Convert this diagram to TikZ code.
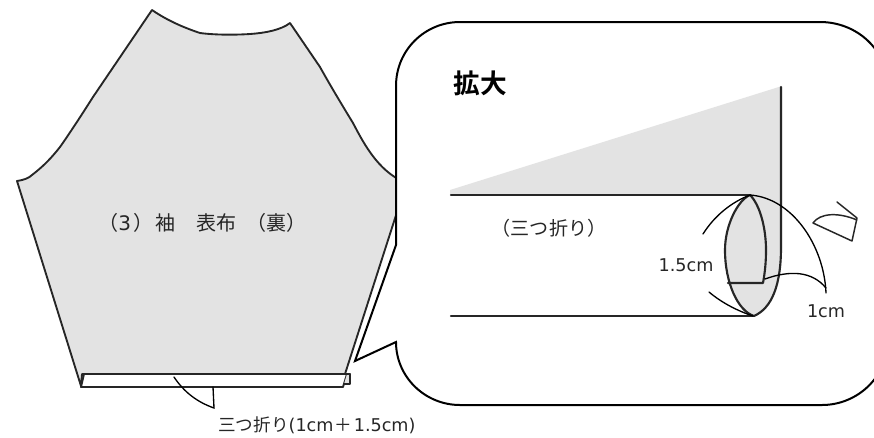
\documentclass[tikz,border=0pt]{standalone}
\usepackage{fontspec}
\setmainfont{DejaVu Sans}
\newfontfamily\cjk{Noto Sans CJK JP}
\newfontfamily\cjkb{Noto Sans CJK JP Bold}
\definecolor{cloth}{HTML}{E3E3E3}
\definecolor{ink}{HTML}{262626}
\tikzset{
  outline/.style={draw=ink,line width=1.4pt,line join=round,line cap=round},
  thinline/.style={draw=black,line width=1pt,line cap=round},
  foldline/.style={draw=ink,line width=1.6pt,line cap=round,line join=round},
  label/.style={inner sep=0pt,text=ink,font=\fontsize{13.2}{15}\selectfont},
}
\begin{document}
\begin{tikzpicture}[x=.75pt,y=-.75pt]
\useasboundingbox (0,0) rectangle (874,437);
\clip (0,0) rectangle (874,437);
% sleeve
\path[outline,fill=cloth] (152,10) .. controls (168,21) and (185,28) .. (200,33)
  .. controls (215,35) and (235,35) .. (250,34)
  .. controls (265,33) and (281,30) .. (290,23)
  -- (320,67) .. controls (330,85) and (342,105) .. (353,123)
  .. controls (362,140) and (375,166) .. (398,179)
  -- (398,209) -- (345,374) -- (82,374) -- (81,386) -- (17,181)
  .. controls (24,180) and (29,178) .. (32,175)
  .. controls (45,165) and (52,157) .. (60,147)
  .. controls (72,130) and (86,108) .. (93,97)
  -- cycle;
% hem
\path[outline,fill=white] (84,374) -- (347,374) -- (343,387) -- (81,387) -- (84,374) -- cycle;
\path[outline,fill=cloth] (347,374) -- (350,374) -- (350,384) -- (344,384);
\draw[outline] (345,374) -- (350,374);
\draw[thinline] (174,377) .. controls (184,392) and (197,402) .. (214,408) -- (213,387);
% bubble
\path[draw=black,line width=1.5pt,fill=white,line join=miter] (396,86)
  .. controls (396,50) and (425,22) .. (460,22) -- (820,22)
  .. controls (857,22) and (888,50) .. (888,88) -- (888,340)
  .. controls (888,376) and (858,405) .. (822,405) -- (460,405)
  .. controls (425,405) and (396,377) .. (396,342)
  -- (355,361) -- (396,245) -- (396,86) -- cycle;
% detail
\path[fill=cloth] (450,190) -- (782,86) -- (782,247)
  .. controls (782,285) and (772,308) .. (754,316)
  .. controls (738,311) and (725,283) .. (725,250)
  .. controls (725,225) and (738,200) .. (750,195) -- (450,195) -- cycle;
\draw[foldline] (451,195) -- (750,195);
\draw[foldline] (451,316) -- (754,316);
\draw[foldline] (781,87) -- (781,247) .. controls (781,285) and (772,308) .. (754,316)
  .. controls (738,311) and (725,283) .. (725,250)
  .. controls (725,225) and (738,200) .. (750,195)
  .. controls (760,205) and (766,228) .. (766,250)
  .. controls (766,262) and (765,272) .. (763,283) -- (728,283);
\draw[thinline] (703,234) .. controls (715,215) and (732,202) .. (750,195)
  .. controls (792,198) and (824,245) .. (826,293);
\draw[thinline] (709,292) .. controls (722,303) and (738,311) .. (753,316);
\draw[thinline] (765,279) .. controls (790,270) and (812,271) .. (826,288);
\draw[outline,line width=1.1pt] (837,202) -- (857,218) -- (852,241) -- (813,223)
  .. controls (820,213) and (838,212) .. (857,220);
% text
\node[label,font=\cjkb\fontsize{20}{22}\selectfont,text=black] (title) at (480,83) {拡大};
\node[label,font=\fontsize{15}{17}\selectfont,anchor=west] (sleeve) at (98,223) {\cjk （\rmfamily 3\hspace{2pt}\cjk ）\hspace{1.5pt}袖　\hspace{1pt}表布\hspace{7pt}（裏）};
\node[label,font=\fontsize{14.3}{16}\selectfont] (fold) at (549,228) {\cjk （三つ折り）};
\node[label] (w15) at (686,265) {1.5cm};
\node[label] (w1) at (826,311) {1cm};
\node[label,anchor=west] (hem) at (218,425) {\cjk 三つ折り\rmfamily (1cm\hspace{1pt}\cjk ＋\hspace{1pt}\rmfamily 1.5cm)\hspace{0pt}};
\end{tikzpicture}
\end{document}
